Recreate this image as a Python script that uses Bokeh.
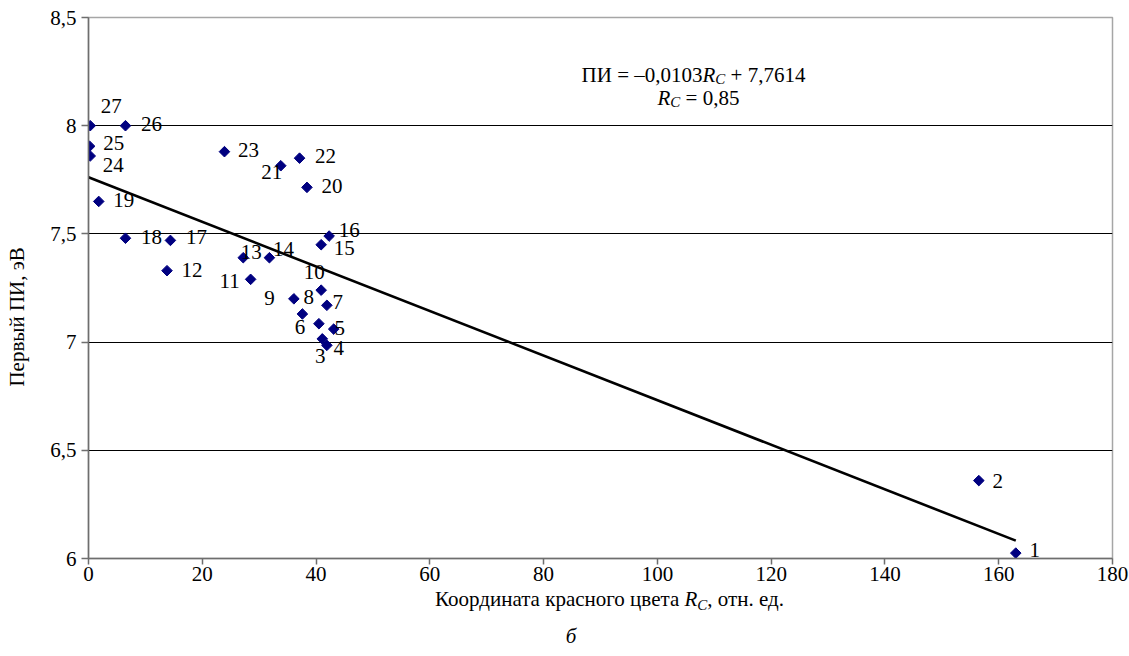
import math
from bokeh.plotting import figure
from bokeh.models import Range1d, FixedTicker, Label, ColumnDataSource, Div
from bokeh.layouts import column
from bokeh.embed import file_html
from bokeh.resources import INLINE

# ---- data ----
labels = [str(i) for i in range(1, 28)]
rc = [163.0, 156.5, 41.1, 41.9, 43.1, 40.5, 41.9, 36.1, 37.6, 40.9,
      28.5, 13.8, 27.2, 31.8, 40.9, 42.3, 14.4, 6.5, 1.8, 38.4,
      33.8, 37.1, 23.9, 0.3, 0.2, 6.5, 0.3]
pi_ev = [6.025, 6.36, 7.015, 6.985, 7.06, 7.085, 7.17, 7.20, 7.13, 7.24,
         7.29, 7.33, 7.39, 7.39, 7.45, 7.49, 7.47, 7.48, 7.65, 7.715,
         7.815, 7.85, 7.88, 7.86, 7.905, 8.0, 8.0]
slope = -0.0103
intercept = 7.7614
x_ticks = [0, 20, 40, 60, 80, 100, 120, 140, 160, 180]
y_ticks = [6, 6.5, 7, 7.5, 8, 8.5]
y_tick_labels = ["6", "6,5", "7", "7,5", "8", "8,5"]

# label offsets in pixels (dx right, dy down) relative to the marker
lab_dx = [19, 19, -2, 12, 6, -19, 11, 15, -33, -7,
          -21, 25, 8, 14, 23, 20, 26, 26, 25, 25,
          -9, 26, 24, 23, 24, 26, 21]
lab_dy = [-3, 0, 17, 3, -1, 3, -3, -2, -16, -18,
          2, -1, -6, -9, 3, -6, -3, -1, -1, -1,
          6, -2, -2, 9, -3, -2, -20]

FONT = "'Liberation Serif', 'Times New Roman', Times, serif"
FS = "21px"
NB = "\u00a0"

p = figure(frame_width=1024, frame_height=541,
           x_range=Range1d(0, 180), y_range=Range1d(6, 8.5),
           output_backend="svg", toolbar_location=None,
           min_border_left=88, min_border_right=17,
           min_border_top=17, min_border_bottom=34)
p.background_fill_color = "white"
p.border_fill_color = "white"
p.outline_line_color = "#a6a6a6"
p.outline_line_width = 1.5

# axes
for ax in (p.xaxis, p.yaxis):
    ax.axis_line_color = "#6e6e6e"
    ax.axis_line_width = 1.5
    ax.major_tick_line_color = "#6e6e6e"
    ax.major_tick_line_width = 1.5
    ax.major_tick_in = 0
    ax.minor_tick_line_color = None
    ax.major_label_text_font = FONT
    ax.major_label_text_font_size = FS
    ax.major_label_text_color = "black"
p.xaxis.major_tick_out = 6
p.yaxis.major_tick_out = 7
p.xaxis.ticker = FixedTicker(ticks=x_ticks)
p.yaxis.ticker = FixedTicker(ticks=y_ticks)
p.yaxis.major_label_overrides = {t: s for t, s in zip(y_ticks, y_tick_labels)}
p.xaxis.major_label_standoff = 2
p.yaxis.major_label_standoff = 5

# y axis title (trailing no-break spaces shift its centre downwards)
p.yaxis.axis_label = "Первый ПИ, эВ" + NB * 11
p.yaxis.axis_label_text_font = FONT
p.yaxis.axis_label_text_font_size = FS
p.yaxis.axis_label_text_font_style = "normal"
p.yaxis.axis_label_text_color = "black"
p.yaxis.axis_label_standoff = 18

# grid
p.xgrid.grid_line_color = None
p.ygrid.ticker = FixedTicker(ticks=[6.5, 7, 7.5, 8])
p.ygrid.grid_line_color = "black"
p.ygrid.grid_line_width = 1.2

# trend line
lx = [0, max(rc)]
ly = [intercept + slope * v for v in lx]
p.line(lx, ly, line_color="black", line_width=2.6)

# points
src = ColumnDataSource(dict(x=rc, y=pi_ev, t=labels, dx=lab_dx, dy=lab_dy))
p.scatter("x", "y", source=src, marker="square", angle=math.pi / 4, size=7.5,
          fill_color="#000080", line_color="#000080")
p.text("x", "y", text="t", source=src, x_offset="dx", y_offset="dy",
       text_align="center", text_baseline="middle",
       text_font={"value": FONT}, text_font_size={"value": FS}, text_color="black")

# helpers for converting reference-pixel positions to data coordinates
def dx_(px):
    return (px - 88) / (1024 / 180)

def dy_(py):
    return 8.5 - (py - 17) / (541 / 2.5)

def lab(text, x, y, xo=0, yo=0, align="left", italic=False, size=FS):
    p.add_layout(Label(x=x, y=y, x_offset=xo, y_offset=yo, text=text,
                       text_align=align, text_baseline="alphabetic",
                       text_font=FONT, text_font_size=size,
                       text_font_style="italic" if italic else "normal",
                       text_color="black"))

R_W = 0.611 * 21
C_W = 0.667 * 15

# equation line 1
ax1, ay1 = dx_(702), dy_(74)
lab("ПИ = –0,0103", ax1, ay1, align="right")
lab("R", ax1, ay1, italic=True)
lab("C", ax1, ay1, xo=R_W, yo=-4, italic=True, size="15px")
lab(NB + "+ 7,7614", ax1, ay1, xo=R_W + C_W)
# equation line 2
ax2, ay2 = dx_(657), dy_(97)
lab("R", ax2, ay2, italic=True)
lab("C", ax2, ay2, xo=R_W, yo=-4, italic=True, size="15px")
lab(NB + "= 0,85", ax2, ay2, xo=R_W + C_W)

# x axis title and caption below the plot
css_font = "font-family:'Liberation Serif','Times New Roman',Times,serif;font-size:21px;color:black;"
html = (
    f'<div style="position:relative;width:1129px;height:64px;{css_font}">'
    '<span style="position:absolute;left:83px;width:1043px;text-align:center;top:-1px;'
    'line-height:6px;white-space:nowrap;">'
    'Координата красного цвета <i>R</i><i style="font-size:15px;position:relative;top:4px;">C</i>, отн. ед.</span>'
    '<span style="position:absolute;left:466px;width:200px;text-align:center;top:36px;'
    'line-height:6px;"><i>б</i></span>'
    '</div>'
)
caption = Div(text=html, width=1129, height=64)

layout = column(p, caption, spacing=0)
open("out.html", "w").write(file_html(layout, INLINE))
